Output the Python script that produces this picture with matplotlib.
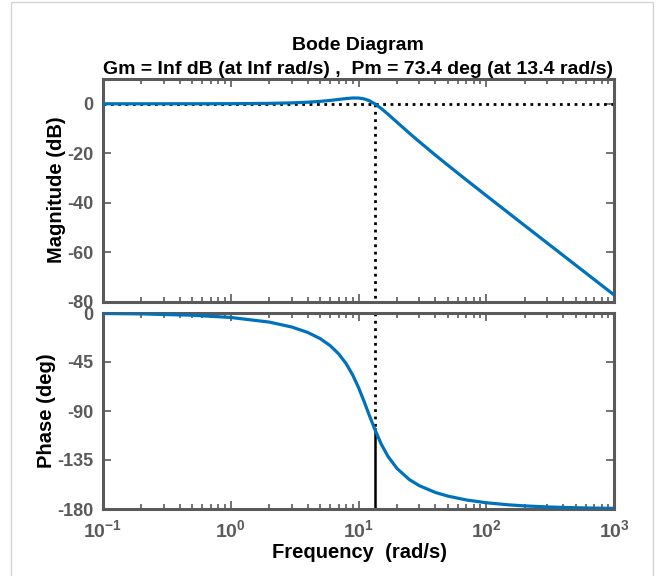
import numpy as np
import matplotlib
matplotlib.use('Agg')
import matplotlib.pyplot as plt
from matplotlib.ticker import LogLocator, FuncFormatter, NullFormatter

plt.rcParams['font.family'] = ['Liberation Sans', 'DejaVu Sans']
plt.rcParams['mathtext.fontset'] = 'custom'
plt.rcParams['mathtext.rm'] = 'Liberation Sans:bold'
plt.rcParams['mathtext.it'] = 'Liberation Sans:bold'
plt.rcParams['mathtext.bf'] = 'Liberation Sans:bold'
plt.rcParams['axes.unicode_minus'] = False

# values
freq = [0.1, 0.2, 0.5, 1, 2, 3, 4, 5, 6, 7, 8, 9, 10, 11, 12, 13.4, 15, 17, 20,
        25, 30, 40, 50, 70, 100, 150, 200, 300, 500, 700, 1000]
mag_db = [0.0, 0.0, 0.01, 0.04, 0.16, 0.36, 0.63, 0.97, 1.35, 1.75, 2.10, 2.33,
          2.32, 2.00, 1.36, 0.03, -1.82, -4.19, -7.43, -11.86, -15.37, -20.73,
          -24.77, -30.77, -37.05, -44.13, -49.15, -56.20, -65.08, -70.93, -77.12]
phase_deg = [-0.41, -0.82, -2.04, -4.10, -8.34, -12.86, -17.83, -23.45, -29.94,
             -37.56, -46.49, -56.86, -68.40, -80.50, -92.29, -106.6, -119.98,
             -131.63, -142.76, -152.98, -158.65, -164.81, -168.14, -171.71,
             -174.26, -176.20, -177.15, -178.10, -178.86, -179.19, -179.43]

wc = 13.4          # gain crossover (rad/s)
pm_phase = -106.6  # phase at crossover
title1 = 'Bode Diagram'
title2 = 'Gm = Inf dB (at Inf rad/s) ,  Pm = 73.4 deg (at 13.4 rad/s)'

blue = '#0072BD'
gray = '#5a5a5a'

fig = plt.figure(figsize=(6.57, 5.76), dpi=100)
W, H = 657.0, 576.0

def px_axes(l, t, r, b):
    return fig.add_axes([l / W, 1 - b / H, (r - l) / W, (b - t) / H])

ax1 = px_axes(103, 79, 614, 302)
ax2 = px_axes(103, 313, 614, 509)

# magnitude
ax1.semilogx([freq[0], freq[-1]], [0, 0], color='k', ls=':', lw=2, zorder=2)
ax1.plot([wc, wc], [0, -80], color='k', ls=':', lw=2, zorder=2)
ax1.plot(freq, mag_db, color=blue, lw=2.3, zorder=3)
ax1.set_ylim(-80, 10)
ax1.set_yticks([0, -20, -40, -60, -80])

# phase
ax2.semilogx([freq[0], freq[-1]], [-180, -180], color='k', ls=':', lw=2, zorder=2)
ax2.plot([wc, wc], [0, pm_phase], color='k', ls=':', lw=2, zorder=2)
ax2.plot([wc, wc], [-180, pm_phase], color='k', ls='-', lw=1.8, zorder=2)
ax2.plot(freq, phase_deg, color=blue, lw=2.3, zorder=3)
ax2.set_ylim(-180, 0)
ax2.set_yticks([0, -45, -90, -135, -180])

decade = FuncFormatter(lambda v, p: r'$\mathbf{10^{%d}}$' % round(np.log10(v)))

for ax in (ax1, ax2):
    ax.set_xlim(0.1, 1000)
    ax.xaxis.set_major_locator(LogLocator(base=10, numticks=10))
    ax.xaxis.set_major_formatter(decade)
    ax.xaxis.set_minor_locator(LogLocator(base=10, subs=np.arange(2, 10), numticks=20))
    ax.xaxis.set_minor_formatter(NullFormatter())
    for s in ax.spines.values():
        s.set_color(gray)
        s.set_linewidth(2.2)
    ax.tick_params(which='both', direction='in', top=True, right=True,
                   color=gray, width=1.2)
    ax.tick_params(which='major', length=6)
    ax.tick_params(which='minor', length=3.5)
    ax.tick_params(axis='y', labelsize=13, labelcolor=gray, pad=7)
    ax.tick_params(axis='x', labelsize=14, labelcolor=gray, pad=7)
    for lab in ax.get_yticklabels():
        lab.set_fontweight('bold')

ax1.tick_params(axis='x', labelbottom=False)

fig.text(358 / W, 1 - 45 / H, title1, ha='center', va='center',
         fontsize=14, fontweight='bold')
fig.text(358 / W, 1 - 69 / H, title2, ha='center', va='center',
         fontsize=14, fontweight='bold')
fig.text(56 / W, 1 - 190 / H, 'Magnitude (dB)', rotation=90, ha='center',
         va='center', fontsize=14.5, fontweight='bold')
fig.text(46 / W, 1 - 411 / H, 'Phase (deg)', rotation=90, ha='center',
         va='center', fontsize=14.5, fontweight='bold')
fig.text(360 / W, 1 - 553 / H, 'Frequency  (rad/s)', ha='center', va='center',
         fontsize=14.5, fontweight='bold')

# light frame around the picture
frame = plt.Rectangle((11 / W, -0.01), 642 / W, 1 - 2 / H + 0.01,
                      transform=fig.transFigure, fill=False,
                      edgecolor='#d4d4d4', lw=1)
fig.add_artist(frame)

fig.savefig('out.png', dpi=100)
